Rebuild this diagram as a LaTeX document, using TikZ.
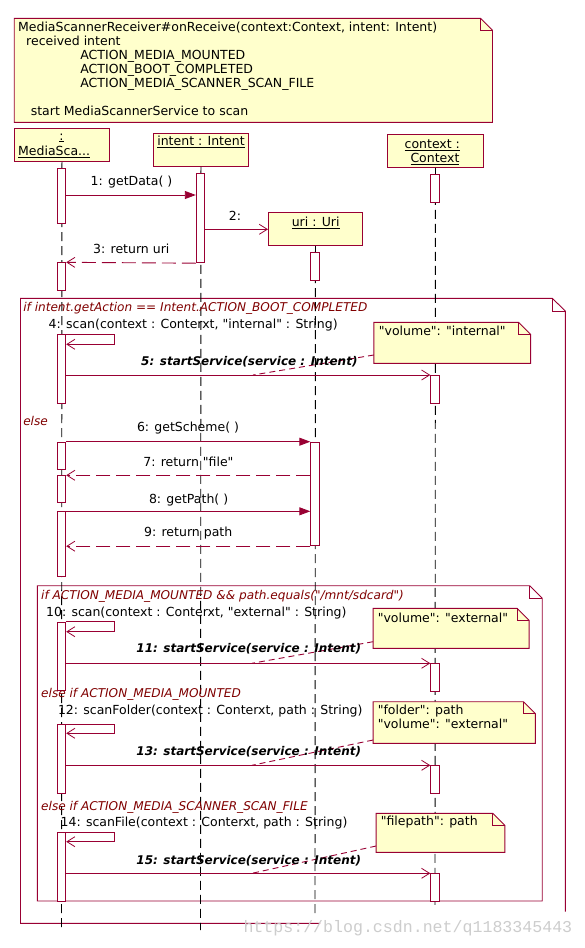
\documentclass[tikz,border=0pt]{standalone}
\usepackage{fontspec}
\setmainfont{DejaVu Sans}
\newfontfamily\dv{DejaVu Sans}
\newfontfamily\wmfont{Liberation Mono}
\usetikzlibrary{arrows.meta}
\definecolor{mar}{RGB}{153,0,51}
\definecolor{notefill}{RGB}{255,255,204}
\definecolor{fragtxt}{RGB}{128,0,0}
\definecolor{wmgray}{RGB}{205,205,205}
\newcommand\FoldBox[6]{%
  \draw[#1] (#2,#3) -- ({#4-#6},#3) -- (#4,{#3+#6}) -- (#4,#5) -- (#2,#5) -- cycle;
  \draw[draw=mar, line width=0.9pt] ({#4-#6},#3) -- ({#4-#6},{#3+#6}) -- (#4,{#3+#6});
}
\tikzset{
  notebox/.style={draw=mar, fill=notefill, line width=0.9pt},
  fragbox/.style={draw=mar, line width=0.9pt},
  hdr/.style={draw=mar, fill=notefill, line width=0.9pt, inner sep=0, anchor=north west},
  act/.style={draw=mar, fill=white, line width=0.9pt, minimum width=8.5pt, inner sep=0, anchor=north},
  life/.style={black, line width=0.9pt, dash pattern=on 9pt off 5pt},
  call/.style={draw=mar, line width=0.9pt, -{Triangle[length=11pt,width=8pt]}},
  async/.style={draw=mar, line width=0.9pt, -{Straight Barb[length=8pt,width=10pt,line width=0.8pt]}},
  ret/.style={draw=mar, line width=0.9pt, dash pattern=on 14pt off 6pt, -{Straight Barb[length=8pt,width=10pt,line width=0.8pt]}},
  anchorline/.style={draw=mar, line width=0.9pt, dash pattern=on 6pt off 4pt},
  txt/.style={inner sep=0, anchor=base west, font=\dv\fontsize{12.5}{14.3}\selectfont},
  ctxt/.style={txt, anchor=base},
  btxt/.style={txt, font=\dv\fontsize{12}{14}\selectfont\bfseries\itshape},
  ftxt/.style={txt, text=fragtxt, font=\dv\fontsize{12.1}{14}\selectfont\itshape},
}
\begin{document}
\begin{tikzpicture}[x=1pt,y=-1pt]
\useasboundingbox[fill=white] (0,0) rectangle (584,948);

% ---- combined fragments
\draw[fragbox] (320,923.3) -- (20.5,923.3) -- (20.5,298.3) -- (552.3,298.3) -- (565.3,311) -- (565.3,911.7);
\draw[fragbox] (552.3,298.3) -- (552.3,311) -- (565.3,311);
\FoldBox{fragbox}{37.3}{585.7}{542.2}{901}{12.5}

% ---- top note
\FoldBox{notebox}{14.2}{18.3}{492.5}{122.3}{12}
\node[txt] (t1) at (17.9,31.7) {MediaScannerReceiver\#onReceive(context:Context, intent: Intent)};
\node[txt] (t2) at (26,45.7) {received intent};
\node[txt] (t3) at (80.2,59.7) {ACTION\_MEDIA\_MOUNTED};
\node[txt] (t4) at (80.2,73.7) {ACTION\_BOOT\_COMPLETED};
\node[txt] (t5) at (80.2,87.7) {ACTION\_MEDIA\_SCANNER\_SCAN\_FILE};
\node[txt] (t6) at (30.6,115.5) {start MediaScannerService to scan};

% ---- lifeline heads
\node[hdr, minimum width=95.2pt, minimum height=33pt] (ms) at (13.9,128.3) {};
\node[hdr, minimum width=95.6pt, minimum height=32.7pt] (it) at (152.7,133.3) {};
\node[hdr, minimum width=95.6pt, minimum height=32.7pt] (cx) at (387.2,134.3) {};
\node[hdr, minimum width=94pt, minimum height=33pt] (uri) at (268,212.3) {};
\node[ctxt] (msl1) at (61.5,140) {\underline{:}};
\node[txt] (msl2) at (18,155.7) {\underline{MediaSca...}};
\node[ctxt] (itl) at (201,145.7) {\underline{intent : Intent}};
\node[ctxt] (cxl1) at (432.3,148.5) {\underline{context :}};
\node[ctxt] (cxl2) at (435,162.3) {\underline{Context}};
\node[ctxt] (uril) at (315.7,226.3) {\underline{uri : Uri}};

% ---- lifelines
\coordinate (msEnd) at (61.5,930);
\coordinate (itEnd) at (200.5,930);
\coordinate (uriEnd) at (315,916.7);
\coordinate (cxEnd) at (435,909.3);
\draw[life] (ms.south) -- (msEnd);
\draw[life] (it.south) -- (itEnd);
\draw[life] (uri.south) -- (uriEnd);
\draw[life] (cx.south) -- (cxEnd);

% ---- activations
\node[act, minimum height=55pt] (a1) at (61.5,168.3) {};
\node[act, minimum height=28pt] (a2) at (61.5,262.3) {};
\node[act, minimum height=69.3pt] (a3) at (61.5,334) {};
\node[act, minimum height=27.6pt] (a4) at (61.5,441.7) {};
\node[act, minimum height=27pt] (a5) at (61.5,475.3) {};
\node[act, minimum height=64.7pt] (a6) at (61.5,511.3) {};
\node[act, minimum height=68.3pt] (a7) at (61.5,621.7) {};
\node[act, minimum height=69.3pt] (a8) at (61.5,724) {};
\node[act, minimum height=68.7pt] (a9) at (61.5,832.3) {};
\node[act, minimum height=89pt] (b1) at (200.5,173.3) {};
\node[act, minimum height=28pt] (u1) at (315,252.3) {};
\node[act, minimum height=103.6pt] (u2) at (315,441.7) {};
\node[act, minimum height=28pt] (c1) at (435,174.3) {};
\node[act, minimum height=28.3pt] (c2) at (435,375) {};
\node[act, minimum height=27.4pt] (c3) at (435,663.3) {};
\node[act, minimum height=28pt] (c4) at (435,765.3) {};
\node[act, minimum height=27.7pt] (c5) at (435,873.3) {};

% ---- messages
\draw[call] (a1.east |- 0,195) -- (b1.west |- 0,195);
\draw[async] (b1.east |- 0,229.3) -- (uri.west |- 0,229.3);
\draw[ret] (b1.south west) -- (a2.north east);
\draw[async] (a3.north east) -- (114.6,334) -- (114.6,344.3) -- (a3.east |- 0,344.3);
\draw[async] (a3.east |- c2.north) -- (c2.north west);
\draw[call] (a4.north east) -- (u2.north west);
\draw[ret] (u2.west |- a5.north) -- (a5.north east);
\draw[call] (a6.north east) -- (u2.west |- a6.north);
\draw[ret] (u2.south west) -- (a6.east |- u2.south);
\draw[async] (a7.north east) -- (114.6,621.7) -- (114.6,631.7) -- (a7.east |- 0,631.7);
\draw[async] (a7.east |- c3.north) -- (c3.north west);
\draw[async] (a8.north east) -- (114.6,724) -- (114.6,733.3) -- (a8.east |- 0,733.3);
\draw[async] (a8.east |- c4.north) -- (c4.north west);
\draw[async] (a9.north east) -- (114.6,832.3) -- (114.6,841.7) -- (a9.east |- 0,841.7);
\draw[async] (a9.east |- c5.north) -- (c5.north west);

% ---- notes on messages
\FoldBox{notebox}{373.9}{322.3}{530.6}{363.3}{12}
\FoldBox{notebox}{373.1}{608.3}{529.1}{648.3}{12}
\FoldBox{notebox}{373.1}{701.7}{535.4}{743.3}{12}
\FoldBox{notebox}{376.1}{813.3}{504.9}{852.3}{12}
\coordinate (n1) at (373.9,355);
\coordinate (n2) at (373.1,641.7);
\coordinate (n3) at (373.1,740);
\coordinate (n4) at (376.1,846);
\coordinate (m5) at (253,375);
\coordinate (m11) at (251.9,663.3);
\coordinate (m13) at (251.9,765.3);
\coordinate (m15) at (251.9,873.3);
\draw[anchorline] (n1) -- (m5);
\draw[anchorline] (n2) -- (m11);
\draw[anchorline] (n3) -- (m13);
\draw[anchorline] (n4) -- (m15);
\node[txt] (nt1) at (378.7,335.7) {"volume": "internal"};
\node[txt] (nt2) at (377.6,622) {"volume": "external"};
\node[txt] (nt3a) at (377.6,714.5) {"folder": path};
\node[txt] (nt3b) at (377.6,728.5) {"volume": "external"};
\node[txt] (nt4) at (380.6,825.5) {"filepath": path};

% ---- labels
\node[ctxt] (l1) at (131.5,185.7) {1: getData( )};
\node[txt] (l2) at (228.7,220.7) {2:};
\node[ctxt] (l3) at (131.3,253) {3: return uri};
\node[ftxt] (f1) at (23.1,311.5) {if intent.getAction == Intent.ACTION\_BOOT\_COMPLETED};
\node[txt] (l4) at (48.5,328.3) {4: scan(context : Conterxt, "internal" : String)};
\node[btxt] (l5) at (141,365) {5: startService(service : Intent)};
\node[ftxt] (f2) at (23.1,425) {else};
\node[ctxt] (l6) at (188,431.7) {6: getScheme( )};
\node[ctxt] (l7) at (188.4,466) {7: return "file"};
\node[ctxt] (l8) at (188.6,503) {8: getPath( )};
\node[ctxt] (l9) at (188.2,536) {9: return path};
\node[ftxt] (f3) at (41,599) {if ACTION\_MEDIA\_MOUNTED \&\& path.equals("/mnt/sdcard")};
\node[txt] (l10) at (45.9,616.7) {10: scan(context : Conterxt, "external" : String)};
\node[btxt] (l11) at (136.2,652.5) {11: startService(service : Intent)};
\node[ftxt] (f4) at (41,697.5) {else if ACTION\_MEDIA\_MOUNTED};
\node[txt] (l12) at (57.8,714.5) {12: scanFolder(context : Conterxt, path : String)};
\node[btxt] (l13) at (136.2,755.7) {13: startService(service : Intent)};
\node[ftxt] (f5) at (41,810.5) {else if ACTION\_MEDIA\_SCANNER\_SCAN\_FILE};
\node[txt] (l14) at (60.4,826.3) {14: scanFile(context : Conterxt, path : String)};
\node[btxt] (l15) at (136.2,864) {15: startService(service : Intent)};

% ---- watermark
\node[inner sep=0, anchor=base west, text=wmgray, font=\wmfont\fontsize{16.6}{18}\selectfont] (wm) at (243.3,932) {https://blog.csdn.net/q1183345443};
\end{tikzpicture}
\end{document}
